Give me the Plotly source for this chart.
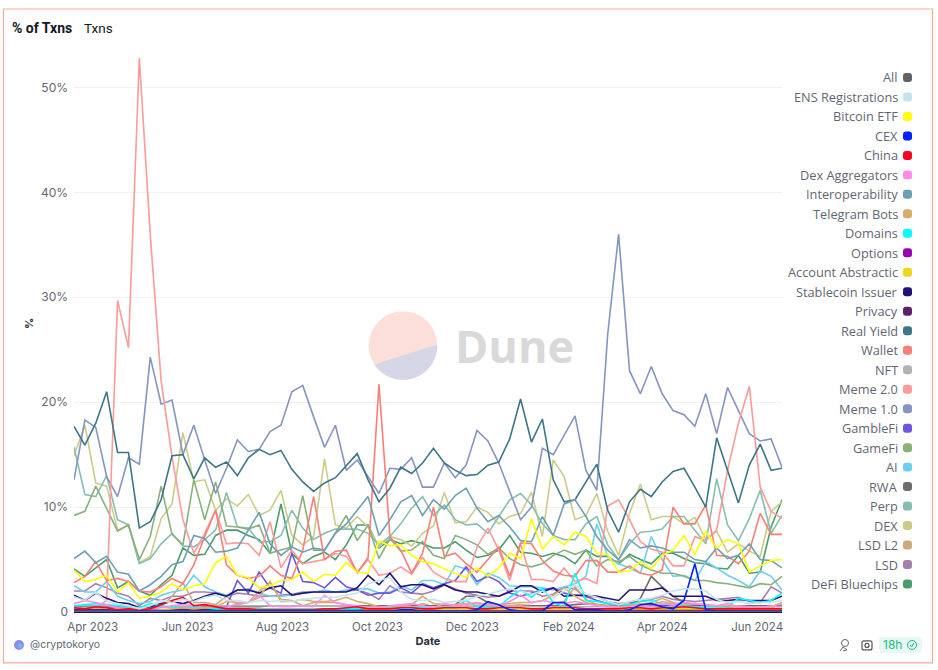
import numpy as np
import pandas as pd
import plotly.graph_objects as go

W, H = 938, 670
dates = pd.date_range("2023-03-20", "2024-06-17", freq="7D")

defi_bluechips = [4.1,3.4,4.2,5,2.3,2.9,2,1.6,2.6,3.5,6.1,5.4,5.5,7.3,7.8,7.8,7.3,6.9,5.6,10.3,5.6,4.6,5.3,5.7,5,6.4,8.3,8.3,6.1,6.9,6.5,6.8,6.5,6.1,6.1,6.7,5.9,5.2,5.4,5.9,7.3,5.7,5.6,5.3,5.6,5.3,4.6,5.9,5.3,5.3,4.6,5.5,5,4.6,5.6,5.6,5.1,4.7,4.6,4.2,4.1,5.4,3.7,3.8,8.1,10.7]
lsd = [2,2,2.7,2.3,1.8,1.5,.6,1.3,1.1,1.5,1.5,1.9,1.9,1.8,1.5,1.8,1.7,1.5,1.5,1.6,1.7,1.9,1.9,1.9,1.9,2,2.1,1.8,1.2,2.5,1.9,1.8,1.7,2,2.6,2.2,1.8,1.6,1.4,1.5,2,2,2,1.5,1.7,2.4,2.2,1.4,1.5,1,.8,.9,1,1.2,1.5,1.2,1.1,1,1.1,1.2,1.3,1.4,1,.9,2.4,1.8]
lsd_l2 = [.3,.3,.3,.4,.4,.3,.2,.3,.5,1.5,2.8,.9,.9,.7,1.5,.7,.9,2,2.8,1.2,1.1,.6,.9,.9,.9,.7,.4,.3,.3,.4,.4,.5,.8,.5,.4,.4,.6,.5,.5,.6,.6,.7,.6,.5,.8,1,2.4,1.2,.7,.5,.4,.6,.7,.9,1.3,.9,.7,.8,.6,.5,.4,.4,.3,.3,.4,.7]
dex = [14.9,17.8,12.3,12,7.8,8.3,4.7,5.3,8.9,10.3,17.1,12.4,12.6,9.7,10.8,10.1,11.2,9.2,9.7,11.6,7.3,6.4,7.2,14.6,8.3,8,9.1,8.1,6.2,7.2,6.9,6.3,7.5,8.2,11.4,8.5,8.6,10,9.5,8.4,9.1,9.4,11.4,7.2,14.5,12.9,8.8,9.2,11.3,7.7,5.4,9.4,12.2,8.8,9.1,9.1,8.4,9,6.9,7.7,5.7,6.5,5.8,5.3,9.6,10.5]
perp = [15.7,11.2,11,13,8.8,8.3,4.6,5.1,6.5,7.5,6.3,6.2,6.9,7.8,11.4,8.1,8,6.7,6.7,7.3,9.7,8,6.9,7.5,7.9,7.9,7.9,7.5,6.4,7.2,8.4,9.9,11,9.2,10.2,8.8,8.3,8.4,7.5,9.1,10.7,11.3,10.2,8.4,7.3,6.9,6.9,8.4,9.1,6.4,5,6.5,7.6,7.7,7.9,9.1,9.1,7.8,6.5,12.7,8.3,6.8,8.9,11.6,7.5,9.2]
rwa = [.5,.5,.5,.5,.5,.5,.4,.4,.5,.5,.5,.5,.5,.5,.5,.5,.5,.5,.6,.6,.6,.6,.6,.6,.6,.6,.6,.6,.6,.6,.6,.6,.6,.6,.6,.7,1.5,1.5,.9,.6,.6,.6,.6,.6,.6,.6,.7,.8,.7,.6,.6,.7,1.3,3.4,2.4,1.5,.9,.7,.6,.6,.6,.6,.6,.6,.6,.6]
ai = [2.5,1.9,1.9,2.9,1.5,1.1,.8,1,1.6,1.9,2.1,3.5,2.4,1.9,1.6,2.1,2.2,1.8,1.5,1.5,1.6,1.8,1.9,2.1,1.9,2.1,2.2,2.2,1.8,1.9,2.5,2.1,3,3,2.6,4.4,4.1,2.6,3.7,3.3,2.5,2.4,2.4,2.3,2.1,2.4,2.7,3.4,8.4,5.3,4.6,4.2,3.7,7.2,5,3.4,3.5,3,4.8,4.2,3.5,3,2.4,3.9,3.4,2.1]
gamefi = [9.2,9.6,12,9.9,7.7,8.3,5,7.2,12,7.4,6.4,12.6,8.8,12.4,8.2,8.1,7.9,8.3,5.6,5.9,6.2,11.1,5.9,5.9,7.5,9.2,6.8,8.3,5.1,7,5.8,5.9,6.7,5.4,5.1,7.3,6.9,6.4,5.5,6.1,5.1,4.5,4.3,4.6,5.4,5.9,5.5,5.9,4.4,5,4.8,5.3,4.5,4,3.7,3.7,3.4,3,3,2.8,2.7,2.5,2.3,2.7,2.6,3.4]
gamblefi = [.2,.2,.2,.2,.2,.2,.2,.2,.2,.2,.3,.3,.3,.4,.5,3,1.8,3.8,2.3,1.8,5.6,2.9,2.8,2.3,3.3,2.4,2.1,1.6,1.8,1.8,2.3,1.8,2.7,2.3,2.7,3,4.3,2.9,3.4,2.9,1.8,1.5,1.8,2.1,2.3,1.8,1.6,1.5,1.1,.8,.5,.6,.7,.6,.6,.7,.6,.6,.6,.6,.5,.6,.6,.5,.6,.6]
meme_1 = [12.6,18.3,17.6,12.9,11,14.7,14.1,24.3,19.8,20.2,15,17.8,14.5,11.3,13.7,16.4,15.3,15.5,17.2,17.8,21,21.6,18.6,15.7,17.8,13.5,14.5,12.9,11.3,13.7,13.6,14.7,11.9,11.9,14.2,12.8,14,17.3,16.3,14.2,11.5,8.8,10,15.6,15,16.9,18.7,13.5,11.6,26.5,36,23,20.8,23.4,20.8,19.2,18.8,17.7,20.8,17,21.4,19.2,17,16.3,16.5,13.8]
meme_2 = [.3,.3,.4,1.1,29.7,25.2,52.8,36,22,14.8,8.8,5.6,7.5,9.7,6.5,6.6,6.5,5.4,8.6,4.2,5.9,4.6,4.8,5,5.6,5.3,3.8,5,3.5,3.7,4.3,3.6,5.2,3.8,3.2,2.9,2.9,6.2,8,5.9,3,6.5,3.1,3.1,2.9,4.2,2.9,3.2,2.7,10.1,10.7,8.8,6.7,6,5.7,4.4,4.4,7.2,6.8,7.8,13.5,18,21.5,11.9,9.6,8.9]
nft = [.6,.6,.6,.6,.6,.6,.5,.5,.5,.5,.5,.5,.6,.6,.6,.6,.6,.6,.6,.6,.6,.6,.6,.6,.6,.6,.5,.5,.5,.5,.5,.5,.5,.5,.5,.5,.5,.6,.6,.6,.6,.6,.5,.5,.5,.5,.5,.5,.5,.5,.5,.5,.5,.5,.5,.5,.5,.5,.5,.5,.5,.5,.5,.5,.5,.5]
wallet = [2.8,3.4,4.8,3,3.2,2.9,2,1.9,2.4,3.2,2.7,4.5,7.2,9.7,4.5,3.5,3.2,3.4,4.4,3.5,3.2,5.9,11,5,5.8,5.9,3.7,5.2,21.7,7.2,5.9,3.7,5.6,10,5.3,5.6,4.6,3.8,5,6.2,3.4,6.6,6.5,4.9,3.9,3.5,3.4,4.9,4.9,3.8,3.8,4.4,3.7,3.5,4,10,8.4,8.4,10.2,5.4,5.3,4.6,5.8,9.4,7.4,7.4]
real_yield = [17.7,15.9,18,21,15.2,15.2,8,8.6,10.7,14.9,15,12.7,14.7,13.8,14.3,13,14.7,15.5,15,15.4,13.6,12.4,11.5,12.3,12.8,14,15.1,12.6,10.5,11.8,13.8,13.2,14.2,15.6,14.2,13.5,13,13.1,14,14.3,16.5,20.3,16.2,18.4,12.6,10.5,10.7,12.4,14.1,9.7,7.6,10.5,11.7,11,12.4,13.4,13.7,11.9,10,16.6,13.5,10.4,14,16,13.5,13.7]
privacy = [.2,.2,.2,.2,.1,.1,.1,.1,.1,.2,.2,.2,.2,.2,.2,.2,.2,.2,.2,.2,.2,.2,.2,.2,.2,.2,.2,.2,.2,.2,.2,.2,.2,.2,.2,.2,.2,.2,.2,.2,.2,.2,.2,.2,.2,.2,.2,.2,.2,.2,.2,.2,.2,.2,.2,.2,.2,.2,.2,.2,.2,.2,.2,.2,.2,.2]
stablecoin = [1.6,1.1,1.8,1.3,.9,.8,.4,.5,.8,1,.8,1.1,1.5,1.8,1.5,2.1,2.1,1.8,2.3,2.5,1.6,1.8,1.9,1.9,1.9,1.9,2.3,3.5,2.6,3.7,2.4,2.6,2.6,2.2,2.6,2.1,1.9,1.9,1.7,1.5,1.9,2.5,2.5,1.9,2.3,1.5,1.6,1.6,1.5,1.3,1.1,2.1,2.1,2.1,2.3,1.5,1.5,1.5,1.5,1.1,1.1,1.2,1.1,1.1,1.1,1.5]
account_abs = [.1,.1,.1,.1,.1,.1,.1,.1,.1,.1,.1,.1,.1,.1,.1,.1,.1,.1,.1,.1,.1,.1,.1,.1,.1,.1,.1,.2,.2,.2,.2,.2,.2,.2,.2,.2,.2,.2,.2,.2,.2,.2,.2,.2,.2,.2,.2,.2,.2,.2,.2,.3,.3,.3,.3,.3,.3,.3,.3,.3,.3,.2,.2,.2,.2,.2]
options = [.1,.1,.1,.1,.1,.1,.1,.1,.1,.1,.1,.1,.1,.1,.1,.1,.1,.1,.1,.1,.1,.1,.1,.1,.1,.1,.1,.1,.1,.1,.1,.1,.1,.1,.1,.1,.1,.1,.1,.1,.1,.1,.1,.1,.1,.1,.1,.1,.1,.1,.1,.1,.1,.1,.1,.1,.1,.1,.1,.1,.1,.1,.1,.1,.1,.1]
domains = [.6,.7,.8,.7,.6,.5,.4,.8,.6,.5,.4,.4,.4,.3,.3,.3,.3,.3,.3,.3,.3,.3,.3,.3,.3,.3,.3,.4,.4,.4,.4,.4,.4,.4,.4,.5,1.1,.5,.4,.5,1.4,2.1,1.4,2.3,.9,.5,3.7,1.1,1,.8,.7,.7,1,1.1,.8,.7,.6,.5,.5,.5,.5,1.3,1.1,.9,1.1,1.8]
telegram = [.1,.1,.1,.1,.1,.1,.1,.1,.2,.3,.4,.3,.4,.5,1,.9,.9,1.4,2.9,1,1,1.2,1,1,1.1,1.4,1,.8,.5,.5,.6,.7,1.5,.8,.7,.7,.8,.8,.7,.7,.8,.9,.9,1.1,1.6,2.3,1.5,.9,.7,.6,.5,.6,.8,.7,1,.8,.7,.8,.7,.6,.6,.6,.5,.5,.5,.9]
interop = [5.1,5.8,4.7,5.3,3.8,3.6,2,2.6,3.4,4.5,4.8,7.3,7,5.7,5.8,6.1,7.8,9.5,6.5,5.4,6.2,5.7,6.1,5.9,7.5,8.4,9.7,11,7.3,8.8,10.5,11.1,9.2,10.7,9.8,11.1,11.8,9.9,8.6,9.2,8.1,6.8,6.7,9.1,7.3,10.3,10.7,9.1,7.2,5.9,5,6.9,6.1,6.3,6.1,5.7,5.7,5,4.8,6.1,5.1,5.4,6.5,5,4.9,4.2]
dex_agg = [.8,1.1,.9,.7,.4,.3,.2,.3,.4,.6,.7,.6,.7,.5,.4,.8,.9,1.6,.6,.5,.5,.6,.5,1.6,.9,.7,.6,.4,.4,.6,.7,.8,.6,.4,.8,.6,.7,.9,.7,.6,1,1.6,.9,1.1,.9,.8,1,.8,.6,.5,.4,.5,.7,.5,.8,.7,.9,.8,.7,.6,.8,.5,.4,.4,.6,.5]
china = [.4,.3,.5,.4,.2,.3,.2,.3,.7,1.1,1.4,.6,.7,.5,.3,.3,.3,.2,.2,.2,.2,.2,.2,.3,.3,.4,.5,.3,.3,.3,.4,.4,.3,.3,.4,.4,.4,.3,.3,.4,.4,.4,.3,.3,.4,.4,.4,.3,.3,.3,.3,.4,.4,.3,.4,.4,.5,.4,.3,.3,.3,.3,.3,.3,.3,.3]
cex = [.1,.1,.1,.1,.1,.1,.1,.1,.1,.1,.1,.1,.1,.1,.1,.1,.1,.1,.1,.1,.1,.1,.1,.1,.1,.1,.1,.1,.1,.1,.2,.2,.1,.1,.1,.1,.1,.2,1,.7,.2,.1,.1,.1,.9,.9,.2,.2,.2,.1,.1,.2,.7,.8,.5,.3,1.1,4.6,.2,.1,.1,.1,.1,.1,.1,.1]
bitcoin_etf = [4,2.9,3.1,3.5,1.9,2.8,1.3,1.5,1.9,2.7,2.1,2.5,2.7,4.7,5.3,3.5,3.3,2.3,2.5,3,3.1,3.8,2.9,3.6,3.5,4.7,3.8,3.7,6.8,6.3,6.4,5.4,4.8,4.6,4.1,3.7,3.3,4.2,3.4,4.2,5.6,5.1,8.9,6,7.2,6.4,7.6,7.2,5.6,5.5,3.8,3.9,4.8,4.1,5.4,5.9,7.3,5.5,7.7,6.1,6.9,6.5,3.8,4.4,4.9,5]
ens = [1.45,1.1,1.9,1,.8,.6,.3,.6,1.1,.9,1.2,1,1.4,1.6,1.1,1.1,.9,1.1,1,1.1,1,1.2,1.3,1.4,1.4,1.6,1.8,2.7,3,3.3,1.9,1.2,1.1,1.2,.9,1,1.1,1.5,1.7,2,2.2,2,1.7,2,1.4,2,2.6,1.7,1.4,1,.7,1,1.2,1.3,1.6,2,2.2,2.2,2,1.2,.9,1,.8,.9,.9,1.1]
all_cat = [.05] * len(dates)

# legend order, top to bottom
names = ["All","ENS Registrations","Bitcoin ETF","CEX","China","Dex Aggregators","Interoperability","Telegram Bots","Domains","Options","Account Abstractic","Stablecoin Issuer","Privacy","Real Yield","Wallet","NFT","Meme 2.0","Meme 1.0","GambleFi","GameFi","AI","RWA","Perp","DEX","LSD L2","LSD","DeFi Bluechips"]
series = [all_cat,ens,bitcoin_etf,cex,china,dex_agg,interop,telegram,domains,options,account_abs,stablecoin,privacy,real_yield,wallet,nft,meme_2,meme_1,gamblefi,gamefi,ai,rwa,perp,dex,lsd_l2,lsd,defi_bluechips]
colors = ["#5f6368","#c5e3ea","#ffff00","#0021ff","#ff0022","#ff8ceb","#6f9fb3","#d8ad6c","#00ffff","#9900b3","#ebd91a","#21127a","#5c2266","#3d7589","#f87f76","#b3b3b3","#fd9a9a","#8595bf","#6d55e0","#8ab17d","#6dcfee","#6e6e6e","#85bfb0","#cccc88","#d0a880","#a680a8","#4a9c6d"]
tick_vals = [0, 10, 20, 30, 40, 50]
tick_text = ["0", "10%", "20%", "30%", "40%", "50%"]

# plot area in pixels
L, R, T, B = 74, 782, 34.5, 612


def px(x):
    return (x - L) / (R - L)


def py(y):
    return (B - y) / (B - T)


def poly(points):
    return "M" + " L".join(f"{px(a):.5f},{py(b):.5f}" for a, b in points) + " Z"


def round_box(x0, y0, x1, y1, r):
    return dict(type="path", xref="paper", yref="paper", line_width=0, path=(
        f"M{px(x0+r)},{py(y0)} L{px(x1-r)},{py(y0)} Q{px(x1)},{py(y0)} {px(x1)},{py(y0+r)} "
        f"L{px(x1)},{py(y1-r)} Q{px(x1)},{py(y1)} {px(x1-r)},{py(y1)} "
        f"L{px(x0+r)},{py(y1)} Q{px(x0)},{py(y1)} {px(x0)},{py(y1-r)} "
        f"L{px(x0)},{py(y0+r)} Q{px(x0)},{py(y0)} {px(x0+r)},{py(y0)} Z"))


def circle(cx, cy, r, **kw):
    return dict(type="circle", xref="paper", yref="paper", x0=px(cx-r), x1=px(cx+r), y0=py(cy+r), y1=py(cy-r), **kw)


def label(x, y, text, size=12.5, color="#5f6673", anchor="right", family="Open Sans", **kw):
    # annotations carry about 2px of padding on each side
    shift = 2 if anchor == "right" else -2
    return dict(x=px(x + shift), y=py(y), xref="paper", yref="paper", text=text, showarrow=False, xanchor=anchor,
                yanchor="middle", font=dict(size=size, color=color, family=family), **kw)


fig = go.Figure()
# bottom of the legend is drawn first
for name, vals, col in reversed(list(zip(names, series, colors))):
    fig.add_trace(go.Scatter(x=dates, y=vals, mode="lines", name=name, line=dict(color=col, width=1.6), showlegend=False))

shapes = []
annots = []

# outer frame
shapes.append(dict(type="rect", xref="paper", yref="paper", x0=px(3.5), x1=px(932.5), y0=py(663), y1=py(8.5),
                   line=dict(color="#f9ab9c", width=1.2), layer="below"))

# watermark
shapes.append(circle(403, 345.3, 34.3, fillcolor="#fcdfd9", line_width=0, layer="below"))
a0, a1 = np.arctan2(344.3 - 345.3, 437 - 403), np.arctan2(364 - 345.3, 375 - 403)
arc = [(403 + 34.3*np.cos(t), 345.3 + 34.3*np.sin(t)) for t in np.linspace(a0, a1, 40)]
shapes.append(dict(type="path", xref="paper", yref="paper", path=poly(arc), fillcolor="#d5d7e6", line_width=0, layer="below"))
annots.append(label(455, 345, "<b>Dune</b>", size=45, color="#d9d9d9", anchor="left", family="Open Sans"))

# legend built by hand: text right aligned with the swatch after it
for k, (name, col) in enumerate(zip(names, colors)):
    y = 77 + 19.5*k
    annots.append(label(898, y, name, size=12.75))
    sw = round_box(903, y-4.5, 912, y+4.5, 3)
    sw["fillcolor"] = col
    shapes.append(sw)

# tabs
annots.append(label(12, 27, "<b>% of Txns</b>", size=14, color="#15181e", anchor="left", family="Roboto"))
annots.append(label(84, 27, "Txns", size=13.5, color="#15181e", anchor="left", family="Roboto"))

# footer
shapes.append(circle(19, 645, 5, fillcolor="#8f8ae8", line_width=0))
shapes.append(circle(20, 646, 2.5, fillcolor="#6fb6f0", line_width=0))
annots.append(label(30, 645, "@cryptokoryo", size=10.5, color="#5f6673", anchor="left", family="Inter"))
badge = round_box(879, 637, 922, 653, 4)
badge["fillcolor"] = "#e7f8f1"
shapes.append(badge)
annots.append(label(883, 645, "18h", size=12, color="#19bd82", anchor="left", family="Inter"))
shapes.append(circle(912, 645, 4.5, line=dict(color="#19bd82", width=1), fillcolor="rgba(0,0,0,0)"))
shapes.append(dict(type="path", xref="paper", yref="paper", path="M" + " L".join(f"{px(a)},{py(b)}" for a, b in [(910, 645), (911.5, 647), (914, 643)]),
                   line=dict(color="#19bd82", width=1)))
cam = round_box(862, 641, 872, 650, 2)
cam.update(line=dict(color="#555", width=1.2), line_width=1.2, fillcolor="rgba(0,0,0,0)")
shapes.append(cam)
shapes.append(circle(867, 645.5, 2, line=dict(color="#555", width=1.2), fillcolor="rgba(0,0,0,0)"))
shapes.append(circle(845, 643, 3.5, line=dict(color="#666", width=1), fillcolor="rgba(0,0,0,0)"))
shapes.append(dict(type="path", xref="paper", yref="paper", path="M" + " L".join(f"{px(a)},{py(b)}" for a, b in [(840, 651), (843, 647), (847, 650), (843, 651)]),
                   line=dict(color="#666", width=1)))

fig.update_layout(
    width=W, height=H,
    margin=dict(l=L, r=W-R, t=T, b=H-B, pad=0),
    paper_bgcolor="white", plot_bgcolor="white",
    font=dict(family="Open Sans", size=12, color="#5f6673"),
    shapes=shapes, annotations=annots,
)
fig.update_xaxes(
    range=[dates[0], dates[-1]], tick0="2023-04-01", dtick="M2", tickformat="%b %Y",
    showgrid=False, zeroline=False, showline=True, linecolor="#1a1a2e", linewidth=1, ticks="",
    ticklabelstandoff=4,
    tickfont=dict(size=11.5, color="#5f6673", family="Inter"),
    title=dict(text="<b>Date</b>", standoff=4, font=dict(size=11, color="#2a2d34", family="Inter")),
)
fig.update_yaxes(
    range=[0, 55], tickvals=tick_vals, ticktext=tick_text,
    showgrid=True, gridcolor="#f1f1f1", gridwidth=1, zeroline=False, ticks="",
    ticklabelstandoff=5,
    tickfont=dict(size=12, color="#5f6673", family="Inter"),
    title=dict(text="<b>%</b>", standoff=5, font=dict(size=11, color="#2a2d34", family="Inter")),
)

fig.write_html("out.html", config={"displayModeBar": False},
               post_script="document.body.style.margin='0';document.body.style.overflow='hidden';")
